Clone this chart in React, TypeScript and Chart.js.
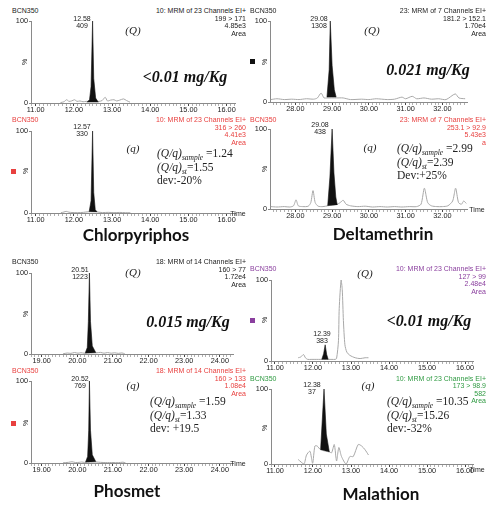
import React, { useEffect, useRef } from 'react';
import { Chart, registerables } from 'chart.js';

Chart.register(...registerables);

type Pt = [number, number];

// ---------- Chlorpyriphos ----------
const chlorTicks = [11, 12, 13, 14, 15, 16];
const chlorQNoise: Pt[] = [
  [11.65, 0.5], [11.74, 1.5], [11.81, 4], [11.87, 2], [11.94, 2.5], [12.02, 4], [12.08, 2],
  [12.16, 2.5], [12.24, 1.5], [12.32, 2], [12.4, 2], [12.66, 2], [12.74, 3], [12.82, 7],
  [12.88, 2.5], [12.96, 3.5], [13.05, 4], [13.12, 2.5], [13.2, 3.5], [13.3, 5], [13.38, 3], [13.47, 1],
];
const chlorQPeak: Pt[] = [
  [12.34, 1], [12.41, 4], [12.45, 20], [12.49, 100], [12.52, 30], [12.57, 6], [12.64, 1],
];
const chlorqNoise: Pt[] = [
  [11.66, 0.3], [11.74, 1.2], [11.8, 2], [11.87, 1], [11.95, 0.6], [12.1, 0.4], [12.25, 0.8],
  [12.38, 1.5], [12.62, 1.2], [12.75, 0.5], [12.9, 0.8], [13.05, 0.4], [13.2, 0.7], [13.35, 0.4], [13.48, 0.3],
];
const chlorqPeak: Pt[] = [
  [12.4, 1.5], [12.45, 15], [12.49, 100], [12.52, 25], [12.56, 4], [12.61, 1.2],
];

// ---------- Deltamethrin ----------
const deltaTicks = [28, 29, 30, 31, 32];
const deltaQNoise: Pt[] = [
  [27.33, 3], [27.5, 4], [27.7, 3], [27.9, 3.5], [28.1, 3], [28.3, 4], [28.5, 3.5], [28.6, 5],
  [28.7, 11], [28.78, 5], [28.86, 5], [29.12, 5], [29.3, 5], [29.5, 3], [29.8, 3.5], [30.0, 3],
  [30.2, 4], [30.5, 3], [30.7, 3.5], [30.9, 6], [31.0, 4], [31.18, 7], [31.3, 4], [31.5, 5],
  [31.7, 3.5], [31.9, 4], [32.1, 3], [32.35, 10], [32.45, 5], [32.62, 4],
];
const deltaQPeak: Pt[] = [
  [28.86, 6], [28.92, 40], [28.95, 100], [29.0, 45], [29.06, 15], [29.11, 6],
];
const deltaqNoise: Pt[] = [
  [27.33, 3], [27.5, 2.5], [27.7, 3], [27.85, 2.5], [27.95, 4], [28.02, 11.5], [28.08, 4],
  [28.2, 3], [28.35, 3.5], [28.42, 8], [28.48, 23], [28.54, 8], [28.62, 3.5], [28.75, 3],
  [28.88, 4], [29.14, 6], [29.22, 8], [29.3, 11], [29.38, 6], [29.5, 4], [29.7, 3], [29.9, 3.5],
  [30.1, 2.5], [30.3, 3], [30.5, 2.5], [30.7, 3], [30.9, 2.5], [31.1, 3], [31.3, 3], [31.42, 6],
  [31.51, 26], [31.6, 8], [31.7, 4], [31.85, 3], [32.0, 3], [32.15, 4], [32.28, 10], [32.36, 26],
  [32.44, 8], [32.52, 6], [32.58, 10], [32.65, 7],
];
const deltaqPeak: Pt[] = [
  [28.88, 4], [28.94, 40], [29.0, 100], [29.05, 45], [29.1, 15], [29.14, 5],
];

// ---------- Phosmet ----------
const phosTicks = [19, 20, 21, 22, 23, 24];
const phosQNoise: Pt[] = [
  [19.6, 0.3], [19.72, 1.2], [19.82, 0.8], [19.92, 1.8], [20.02, 1], [20.1, 1.6], [20.2, 1],
  [20.55, 1.5], [20.65, 2], [20.75, 1], [20.85, 1.8], [20.95, 1], [21.05, 1.5], [21.15, 0.8],
  [21.25, 1.3], [21.33, 0.4],
];
const phosQPeak: Pt[] = [
  [20.22, 1], [20.28, 8], [20.31, 40], [20.34, 100], [20.37, 40], [20.42, 10], [20.52, 1.5],
];
const phosqNoise: Pt[] = [
  [19.6, 0.3], [19.75, 0.8], [19.85, 1.5], [19.95, 0.6], [20.05, 0.8], [20.12, 1.2], [20.2, 0.8],
  [20.55, 1.2], [20.65, 0.8], [20.8, 0.5], [21.0, 0.6], [21.15, 0.4], [21.28, 1], [21.35, 0.3],
];
const phosqPeak: Pt[] = [
  [20.23, 1], [20.29, 8], [20.32, 40], [20.34, 100], [20.37, 40], [20.42, 10], [20.52, 1.5],
];

// ---------- Malathion ----------
const malaTicks = [11, 12, 13, 14, 15, 16];
const malaQNoise: Pt[] = [
  [11.61, 4], [11.68, 5], [11.75, 8], [11.8, 4], [11.86, 2], [11.95, 2], [12.05, 2], [12.15, 2],
  [12.23, 2], [12.4, 2], [12.5, 2], [12.58, 2], [12.62, 3], [12.67, 25], [12.69, 65], [12.74, 100],
  [12.77, 88], [12.8, 50], [12.84, 20], [12.89, 11], [12.97, 7], [13.11, 4], [13.24, 3], [13.37, 4], [13.46, 4],
];
const malaQPeak: Pt[] = [
  [12.23, 2], [12.28, 9], [12.32, 20], [12.36, 8], [12.4, 2],
];
const malaqNoise: Pt[] = [
  [11.61, 6], [11.76, 0], [11.83, 12], [11.92, 17], [11.99, 1], [12.05, 24], [12.11, 24],
  [12.2, 19], [12.43, 16], [12.49, 15], [12.56, 26], [12.62, 4], [12.68, 22], [12.75, 10],
  [12.87, 0], [12.97, 10], [13.06, 10], [13.19, 26], [13.28, 24], [13.37, 19], [13.46, 12],
];
const malaqPeak: Pt[] = [
  [12.2, 19], [12.29, 100], [12.35, 40], [12.43, 16],
];

// ---------- layout ----------
const YW = 30;
const XH = 16;
const PT = 6;
const PR = 10;
const SANS = '"Liberation Sans", Arial, Helvetica, sans-serif';
const SERIF = '"Liberation Serif", "Times New Roman", serif';
const TITLE = 'Lato, "Open Sans", sans-serif';
const RED = '#e8403f';
const PURPLE = '#8a3f9e';
const GREEN = '#2f9a42';
const INK = '#222';

type PanelDef = {
  left: number; right: number; top: number; bottom: number;
  xMin: number; xMax: number; majors: number[];
  noise: Pt[]; peak: Pt[];
};

const panels: PanelDef[] = [
  { left: 31, right: 235, top: 21, bottom: 103, xMin: 10.877, xMax: 16.22, majors: chlorTicks, noise: chlorQNoise, peak: chlorQPeak },
  { left: 31, right: 235, top: 131, bottom: 213, xMin: 10.877, xMax: 16.22, majors: chlorTicks, noise: chlorqNoise, peak: chlorqPeak },
  { left: 270, right: 467, top: 21, bottom: 102, xMin: 27.31, xMax: 32.67, majors: deltaTicks, noise: deltaQNoise, peak: deltaQPeak },
  { left: 270, right: 467, top: 129, bottom: 209, xMin: 27.31, xMax: 32.67, majors: deltaTicks, noise: deltaqNoise, peak: deltaqPeak },
  { left: 31, right: 233, top: 273, bottom: 354, xMin: 18.7, xMax: 24.37, majors: phosTicks, noise: phosQNoise, peak: phosQPeak },
  { left: 31, right: 233, top: 381, bottom: 463, xMin: 18.7, xMax: 24.37, majors: phosTicks, noise: phosqNoise, peak: phosqPeak },
  { left: 271, right: 473, top: 280, bottom: 361, xMin: 10.895, xMax: 16.21, majors: malaTicks, noise: malaQNoise, peak: malaQPeak },
  { left: 271, right: 473, top: 389, bottom: 464, xMin: 10.895, xMax: 16.21, majors: malaTicks, noise: malaqNoise, peak: malaqPeak },
];

function Panel({ def }: { def: PanelDef }) {
  const ref = useRef<HTMLCanvasElement>(null);
  const w = def.right - def.left + YW + PR;
  const h = def.bottom - def.top + PT + XH;
  useEffect(() => {
    const isMajor = (v: number) => def.majors.some((m) => Math.abs(m - v) < 1e-6);
    const tickVals: number[] = [];
    for (let k = Math.ceil(def.xMin * 10); k <= Math.floor(def.xMax * 10); k++) tickVals.push(k / 10);
    const toXY = (a: Pt[]) => a.map(([x, y]) => ({ x, y }));
    const chart = new Chart(ref.current as HTMLCanvasElement, {
      type: 'line',
      data: {
        datasets: [
          {
            data: toXY(def.peak),
            borderColor: '#111',
            backgroundColor: '#111',
            borderWidth: 0.6,
            pointRadius: 0,
            tension: 0,
            fill: 'shape',
          } as any,
          {
            data: toXY(def.noise),
            borderColor: '#a8a8a8',
            borderWidth: 1,
            pointRadius: 0,
            tension: 0.25,
            fill: false,
          },
        ],
      },
      options: {
        animation: false,
        responsive: false,
        maintainAspectRatio: false,
        events: [],
        layout: { padding: { top: PT, right: PR, left: 0, bottom: 0 } },
        plugins: { legend: { display: false }, tooltip: { enabled: false } },
        scales: {
          x: {
            type: 'linear',
            min: def.xMin,
            max: def.xMax,
            afterBuildTicks: (s: any) => { s.ticks = tickVals.map((v) => ({ value: v })); },
            afterFit: (s: any) => { s.height = XH; },
            ticks: {
              autoSkip: false, maxRotation: 0, minRotation: 0, padding: 0,
              font: { size: 7.3, family: SANS }, color: INK,
              callback: (v: any) => (isMajor(Number(v)) ? Number(v).toFixed(2) : ''),
            },
            grid: {
              drawOnChartArea: false, drawTicks: true, tickLength: 3,
              tickColor: (ctx: any) => (ctx.tick && isMajor(ctx.tick.value) ? '#444' : '#b0b0b0'),
              tickWidth: 1,
            },
            border: { display: true, color: '#8a8a8a', width: 1 },
          },
          y: {
            min: 0,
            max: 100,
            afterBuildTicks: (s: any) => { s.ticks = [{ value: 0 }, { value: 100 }]; },
            afterFit: (s: any) => { s.width = YW; },
            ticks: { padding: 1, font: { size: 7.3, family: SANS }, color: INK, callback: (v: any) => String(v) },
            grid: { drawOnChartArea: false, tickLength: 2, tickColor: '#888' },
            border: { display: true, color: '#8a8a8a', width: 1 },
          },
        },
      } as any,
    });
    return () => chart.destroy();
  }, []);
  return (
    <canvas
      ref={ref}
      width={w}
      height={h}
      style={{ position: 'absolute', left: def.left - YW, top: def.top - PT, width: w, height: h }}
    />
  );
}

function T(props: {
  x: number; y: number; a?: 'l' | 'c' | 'r'; size?: number; color?: string; family?: string;
  style?: React.CSSProperties; children: React.ReactNode;
}) {
  const { x, y, a = 'c', size = 7, color = INK, family = SANS, style, children } = props;
  const tx = a === 'c' ? '-50%' : a === 'r' ? '-100%' : '0';
  return (
    <div
      style={{
        position: 'absolute', left: x, top: y, transform: `translate(${tx},-50%)`,
        whiteSpace: 'nowrap', lineHeight: 1, fontSize: size, color, fontFamily: family, ...style,
      }}
    >
      {children}
    </div>
  );
}

function Header(props: { lx: number; rx: number; y: number; color: string; lines: string[] }) {
  const { lx, rx, y, color, lines } = props;
  return (
    <>
      <T x={lx} y={y} a="l" color={color}>BCN350</T>
      {lines.map((s, i) => (
        <T key={i} x={rx} y={y + i * 7.6} a="r" color={color}>{s}</T>
      ))}
    </>
  );
}

function Pct({ x, y }: { x: number; y: number }) {
  return (
    <div style={{
      position: 'absolute', left: x, top: y, transform: 'translate(-50%,-50%) rotate(-90deg)',
      fontSize: 7, fontFamily: SANS, color: INK, lineHeight: 1,
    }}>%</div>
  );
}

function Sq({ x, y, color }: { x: number; y: number; color: string }) {
  return <div style={{ position: 'absolute', left: x - 2, top: y - 2, width: 5, height: 5, background: color }} />;
}

function PeakLabel({ x, y, rt, area }: { x: number; y: number; rt: string; area: string }) {
  return (
    <>
      <T x={x} y={y}>{rt}</T>
      <T x={x} y={y + 7}>{area}</T>
    </>
  );
}

function Ratio({ x, y, sample, st, dev }: { x: number; y: number; sample: string; st: string; dev: string }) {
  const sub: React.CSSProperties = { fontSize: 7.5, fontStyle: 'italic', position: 'relative', top: 3 };
  return (
    <>
      <T x={x} y={y} a="l" size={11.5} family={SERIF}>
        <i>(Q/q)</i><span style={sub}>sample</span> ={sample}
      </T>
      <T x={x} y={y + 13.5} a="l" size={11.5} family={SERIF}>
        <i>(Q/q)</i><span style={sub}>st</span>={st}
      </T>
      <T x={x} y={y + 27} a="l" size={11.5} family={SERIF}>{dev}</T>
    </>
  );
}

const Conc = ({ x, y, children }: { x: number; y: number; children: React.ReactNode }) => (
  <T x={x} y={y} size={16} family={SERIF} style={{ fontWeight: 'bold', fontStyle: 'italic', color: '#111' }}>{children}</T>
);
const Lab = ({ x, y, children }: { x: number; y: number; children: React.ReactNode }) => (
  <T x={x} y={y} size={11} family={SERIF} style={{ fontStyle: 'italic' }}>{children}</T>
);
const Title = ({ x, y, children }: { x: number; y: number; children: React.ReactNode }) => (
  <T x={x} y={y} size={17} family={TITLE} style={{ fontWeight: 'bold', color: '#111' }}>{children}</T>
);

export default function App() {
  return (
    <div style={{ position: 'absolute', left: 0, top: 0, width: 488, height: 505, overflow: 'hidden', background: '#fff' }}>
      {panels.map((p, i) => <Panel key={i} def={p} />)}

      {/* Chlorpyriphos */}
      <Header lx={12} rx={246} y={10} color={INK} lines={['10: MRM of 23 Channels EI+', '199 > 171', '4.85e3', 'Area']} />
      <PeakLabel x={82} y={17.5} rt="12.58" area="409" />
      <Pct x={24} y={62} />
      <Lab x={133} y={30}>(Q)</Lab>
      <Conc x={185} y={77}>&lt;0.01 mg/Kg</Conc>

      <Header lx={12} rx={246} y={119} color={RED} lines={['10: MRM of 23 Channels EI+', '316 > 260', '4.41e3', 'Area']} />
      <PeakLabel x={82} y={126} rt="12.57" area="330" />
      <Sq x={13} y={171} color={RED} />
      <Pct x={25} y={171} />
      <Lab x={133} y={148}>(q)</Lab>
      <Ratio x={157} y={154} sample="1.24" st="1.55" dev="dev:-20%" />
      <T x={238} y={213}>Time</T>
      <Title x={136} y={234}>Chlorpyriphos</Title>

      {/* Deltamethrin */}
      <Header lx={250} rx={486} y={10} color={INK} lines={['23: MRM of 7 Channels EI+', '181.2 > 152.1', '1.70e4', 'Area']} />
      <PeakLabel x={319} y={17.5} rt="29.08" area="1308" />
      <Sq x={252} y={61} color="#111" />
      <Pct x={264} y={62} />
      <Lab x={372} y={30}>(Q)</Lab>
      <Conc x={428} y={70}>0.021 mg/Kg</Conc>

      <Header lx={250} rx={486} y={119} color={RED} lines={['23: MRM of 7 Channels EI+', '253.1 > 92.9', '5.43e3', 'a']} />
      <PeakLabel x={320} y={124} rt="29.08" area="438" />
      <Pct x={264} y={169} />
      <Lab x={370} y={147}>(q)</Lab>
      <Ratio x={397} y={149} sample="2.99" st="2.39" dev="Dev:+25%" />
      <T x={477} y={209}>Time</T>
      <Title x={383} y={233}>Deltamethrin</Title>

      {/* Phosmet */}
      <Header lx={12} rx={246} y={261} color={INK} lines={['18: MRM of 14 Channels EI+', '160 > 77', '1.72e4', 'Area']} />
      <PeakLabel x={80} y={269} rt="20.51" area="1223" />
      <Pct x={25} y={314} />
      <Lab x={133} y={272}>(Q)</Lab>
      <Conc x={188} y={322}>0.015 mg/Kg</Conc>

      <Header lx={12} rx={246} y={370} color={RED} lines={['18: MRM of 14 Channels EI+', '160 > 133', '1.08e4', 'Area']} />
      <PeakLabel x={80} y={377.7} rt="20.52" area="769" />
      <Sq x={13} y={423} color={RED} />
      <Pct x={25} y={423} />
      <Lab x={133} y={385}>(q)</Lab>
      <Ratio x={150} y={402} sample="1.59" st="1.33" dev="dev: +19.5" />
      <T x={238} y={463}>Time</T>
      <Title x={127} y={490}>Phosmet</Title>

      {/* Malathion */}
      <Header lx={250} rx={486} y={268} color={PURPLE} lines={['10: MRM of 23 Channels EI+', '127 > 99', '2.48e4', 'Area']} />
      <PeakLabel x={322} y={333.3} rt="12.39" area="383" />
      <Sq x={252} y={320} color={PURPLE} />
      <Pct x={264} y={320} />
      <Lab x={365} y={273}>(Q)</Lab>
      <Conc x={429} y={321}>&lt;0.01 mg/Kg</Conc>

      <Header lx={250} rx={486} y={377.5} color={GREEN} lines={['10: MRM of 23 Channels EI+', '173 > 98.9', '582', 'Area']} />
      <PeakLabel x={312} y={384} rt="12.38" area="37" />
      <Pct x={264} y={428} />
      <Lab x={368} y={385}>(q)</Lab>
      <Ratio x={387} y={402} sample="10.35" st="15.26" dev="dev:-32%" />
      <T x={477} y={469}>Time</T>
      <Title x={381} y={493}>Malathion</Title>
    </div>
  );
}
